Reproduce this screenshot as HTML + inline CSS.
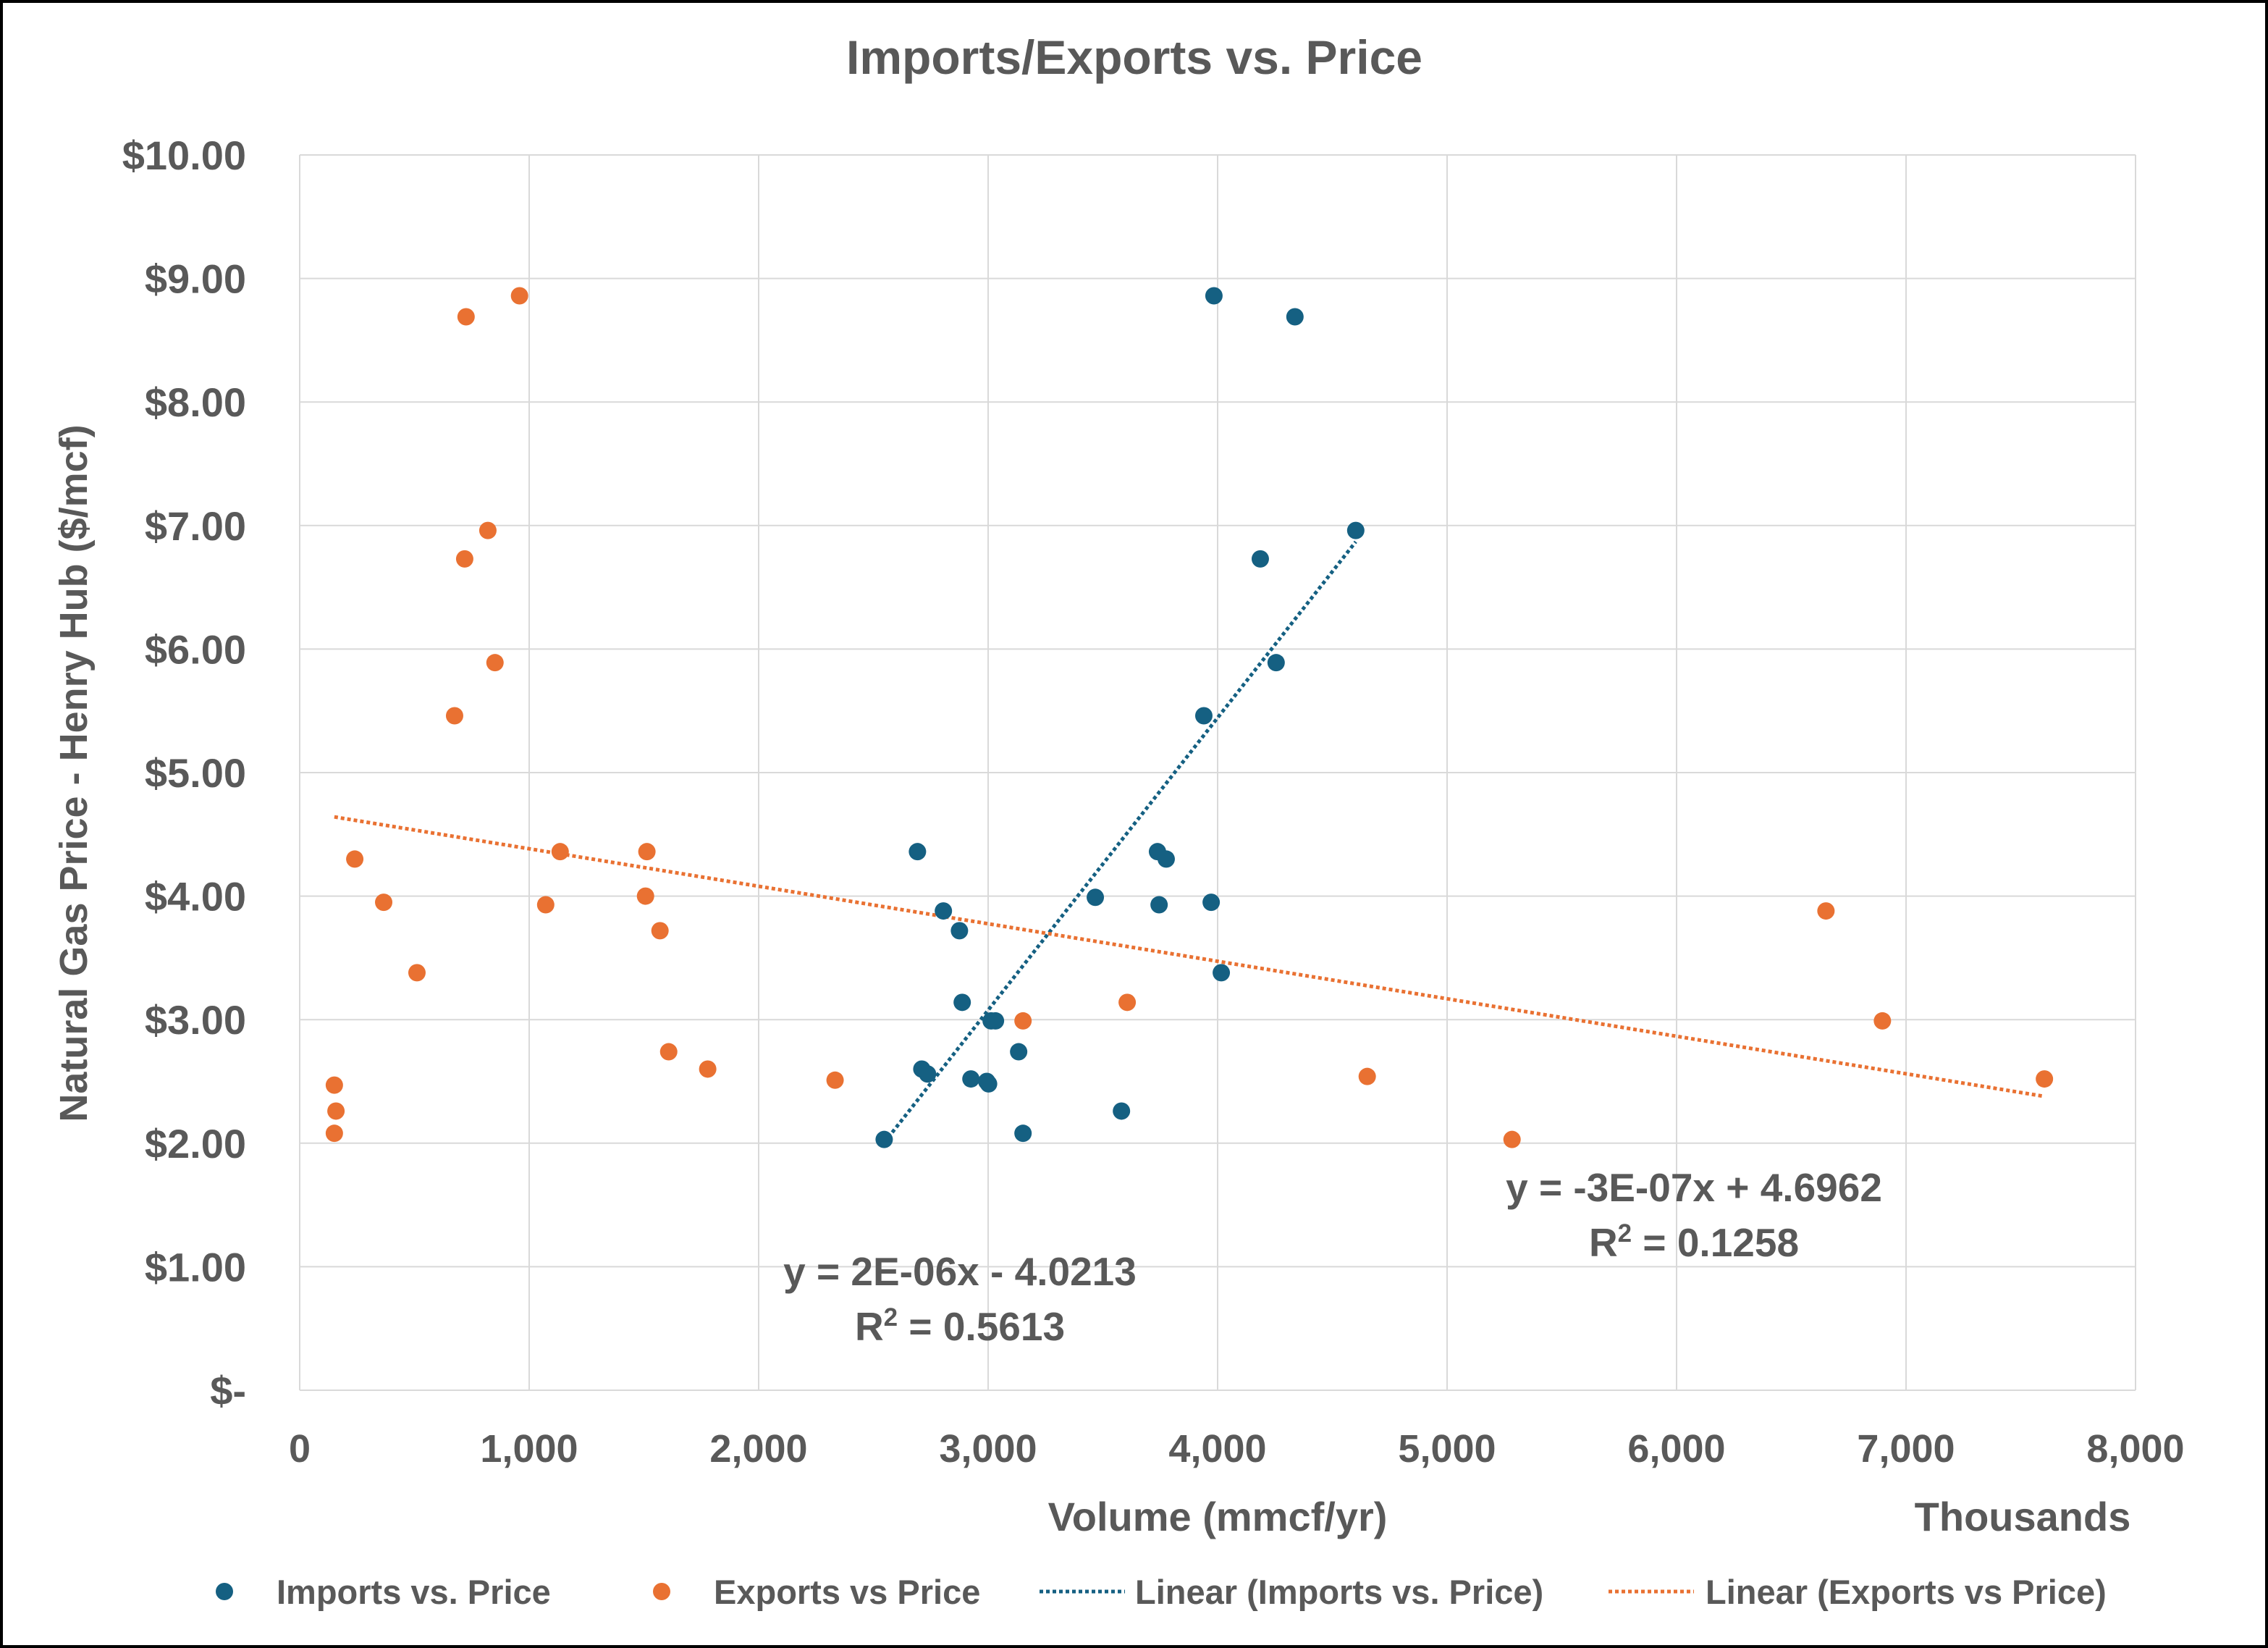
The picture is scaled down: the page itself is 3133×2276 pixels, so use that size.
<!DOCTYPE html>
<html><head><meta charset="utf-8"><style>
html,body{margin:0;padding:0;background:#fff}
svg{display:block}
text{font-family:"Liberation Sans",Arial,sans-serif;font-weight:bold;fill:#595959}
</style></head><body>
<svg id="chart" width="3133" height="2276" viewBox="0 0 3133 2276" xmlns="http://www.w3.org/2000/svg">
<rect x="2" y="2" width="3129" height="2272" fill="#fff" stroke="#000" stroke-width="4"/>
<text x="1567" y="102" font-size="66" text-anchor="middle">Imports/Exports vs. Price</text>
<g id="grid"></g>
<g id="ticks"></g>
<g id="trends"></g>
<g id="points"></g>
<text transform="translate(120,1068) rotate(-90)" font-size="54" text-anchor="middle">Natural Gas Price - Henry Hub ($/mcf)</text>
<text x="1682" y="2114" font-size="56" text-anchor="middle">Volume (mmcf/yr)</text>
<text x="2794" y="2114" font-size="56" text-anchor="middle">Thousands</text>
<text x="1326" y="1775" font-size="55" text-anchor="middle">y = 2E-06x - 4.0213</text>
<text x="1326" y="1851" font-size="55" text-anchor="middle">R<tspan dy="-20" font-size="35">2</tspan><tspan dy="20"> = 0.5613</tspan></text>
<text x="2340" y="1659" font-size="55" text-anchor="middle">y = -3E-07x + 4.6962</text>
<text x="2340" y="1735" font-size="55" text-anchor="middle">R<tspan dy="-20" font-size="35">2</tspan><tspan dy="20"> = 0.1258</tspan></text>
<g>
<g><circle cx="310" cy="2198" r="12" fill="#156082"/><text x="382" y="2215" font-size="47">Imports vs. Price</text></g>
<g><circle cx="914" cy="2198" r="12" fill="#e97132"/><text x="986" y="2215" font-size="47">Exports vs Price</text></g>
<g><line x1="1436" y1="2198" x2="1554" y2="2198" stroke="#156082" stroke-width="5" stroke-dasharray="5,4"/><text x="1568" y="2215" font-size="47">Linear (Imports vs. Price)</text></g>
<g><line x1="2222" y1="2198" x2="2340" y2="2198" stroke="#e97132" stroke-width="5" stroke-dasharray="5,4"/><text x="2356" y="2215" font-size="47">Linear (Exports vs Price)</text></g>
</g>
</svg>
<script>
const xTicks = [0,1000,2000,3000,4000,5000,6000,7000,8000];
const xTickLabels = ["0","1,000","2,000","3,000","4,000","5,000","6,000","7,000","8,000"];
const yTicks = [0,1,2,3,4,5,6,7,8,9,10];
const yTickLabels = ["$-","$1.00","$2.00","$3.00","$4.00","$5.00","$6.00","$7.00","$8.00","$9.00","$10.00"];
const importsX = [3984,4337,4602,4186,4255,3940,2692,3738,3776,3467,3745,3972,2805,2875,4016,2887,3013,3032,3133,2711,2736,2925,2994,3002,3581,3152,2547];
const importsY = [8.86,8.69,6.96,6.73,5.89,5.46,4.36,4.36,4.30,3.99,3.93,3.95,3.88,3.72,3.38,3.14,2.99,2.99,2.74,2.60,2.56,2.52,2.50,2.48,2.26,2.08,2.03];
const exportsX = [958,725,820,719,851,675,240,1135,1513,1507,366,1072,1570,511,1608,1778,2333,3152,3606,4652,5283,6651,6897,7603,151,158,151];
const exportsY = [8.86,8.69,6.96,6.73,5.89,5.46,4.30,4.36,4.36,4.00,3.95,3.93,3.72,3.38,2.74,2.60,2.51,2.99,3.14,2.54,2.03,3.88,2.99,2.52,2.47,2.26,2.08];

const NS="http://www.w3.org/2000/svg";
const X0=414,X1=2950,Y0=1920,Y1=214;
const sx=v=>X0+(v-0)/8000*(X1-X0);
const sy=v=>Y0-(v-0)/10*(Y0-Y1);
function mk(tag,attrs,parent){const e=document.createElementNS(NS,tag);for(const k in attrs)e.setAttribute(k,attrs[k]);parent.appendChild(e);return e;}
const grid=document.getElementById('grid'),ticks=document.getElementById('ticks'),trends=document.getElementById('trends'),pts=document.getElementById('points');
yTicks.forEach((t,i)=>{
  const l=mk('line',{x1:X0,x2:X1,y1:sy(t),y2:sy(t),stroke:'#d9d9d9','stroke-width':2},grid);
  
  
  const tx=mk('text',{x:340,y:sy(t)+20,'font-size':56,'text-anchor':'end'},ticks);
  tx.textContent=yTickLabels[i];
  
  
});
xTicks.forEach((t,i)=>{
  const l=mk('line',{x1:sx(t),x2:sx(t),y1:Y1,y2:Y0,stroke:'#d9d9d9','stroke-width':2},grid);
  
  
  const tx=mk('text',{x:sx(t),y:2019,'font-size':54,'text-anchor':'middle'},ticks);
  tx.textContent=xTickLabels[i];
  
  
});
function trend(xs,ys,color,name){
  const n=xs.length;let mx=0,my=0;xs.forEach((v,i)=>{mx+=v;my+=ys[i];});mx/=n;my/=n;
  let sxy=0,sxx=0;xs.forEach((v,i)=>{sxy+=(v-mx)*(ys[i]-my);sxx+=(v-mx)*(v-mx);});
  const b=sxy/sxx,a=my-b*mx;const lo=Math.min(...xs),hi=Math.max(...xs);
  const l=mk('line',{x1:sx(lo),y1:sy(a+b*lo),x2:sx(hi),y2:sy(a+b*hi),stroke:color,'stroke-width':5,'stroke-dasharray':'5,4'},trends);
  
  
}
trend(importsX,importsY,'#156082','imports-trendline');
trend(exportsX,exportsY,'#e97132','exports-trendline');
importsX.forEach((v,i)=>{
  const c=mk('circle',{cx:sx(v),cy:sy(importsY[i]),r:12,fill:'#156082'},pts);
  
  
});
exportsX.forEach((v,i)=>{
  const c=mk('circle',{cx:sx(v),cy:sy(exportsY[i]),r:12,fill:'#e97132'},pts);
  
  
});
</script>
</body></html>
